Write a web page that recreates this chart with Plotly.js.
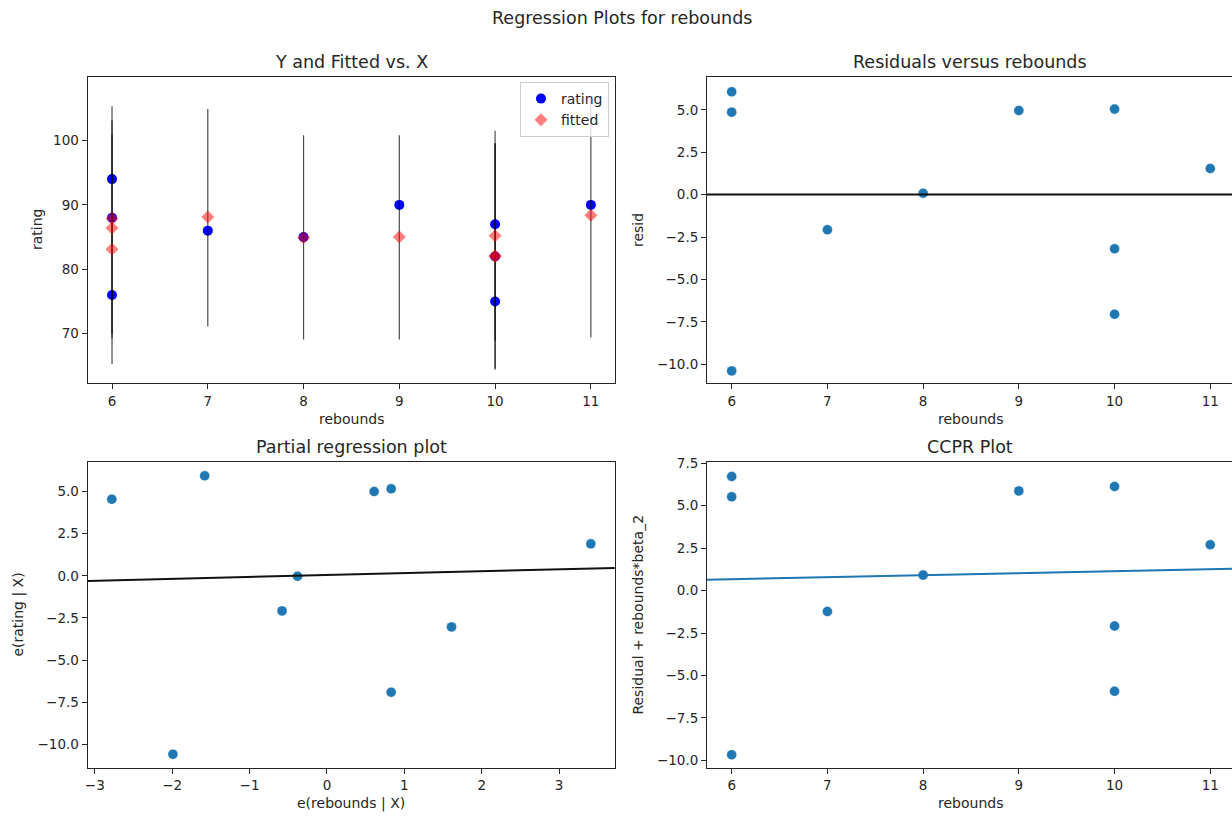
<!DOCTYPE html>
<html><head><meta charset="utf-8">
<script src="https://cdn.plot.ly/plotly-3.0.1.min.js"></script>
<style>html,body{margin:0;padding:0;background:#fff}</style>
</head><body><div id="chart" style="width:1232px;height:816px"></div>
<script>
// ---- data ----
const rebounds   = [6, 6, 6, 7, 8, 9, 10, 10, 10, 11];
const rating     = [94, 88, 76, 86, 85, 90, 87, 82, 75, 90];
const fitted     = [87.9, 83.1, 86.4, 88.1, 84.9, 85.0, 82.0, 85.2, 82.1, 88.4];
const predLower  = [70.0, 65.3, 69.3, 71.1, 69.1, 69.1, 64.4, 68.9, 64.6, 69.4];
const predUpper  = [105.3, 100.9, 103.1, 104.9, 100.8, 100.8, 99.6, 101.5, 99.5, 106.4];
const resid      = [6.06, 4.86, -10.39, -2.07, 0.08, 4.96, 5.04, -3.19, -7.05, 1.54];
const partX      = [-1.58, -2.78, -1.99, -0.58, -0.38, 0.61, 0.83, 1.61, 0.83, 3.41];
const partY      = [5.94, 4.55, -10.59, -2.08, -0.02, 5.01, 5.17, -3.03, -6.91, 1.90];
const ccpr       = [6.72, 5.52, -9.67, -1.23, 0.91, 5.87, 6.13, -2.09, -5.93, 2.70];
const partLineX  = [-3.09, 3.72];
const partLineY  = [-0.30, 0.47];
const ccprLineX  = [5.74, 11.23];
const ccprLineY  = [0.64, 1.28];
const reboundTicks = [6, 7, 8, 9, 10, 11];
const ratingTicks  = [70, 80, 90, 100];
const residTicks   = [-10, -7.5, -5, -2.5, 0, 2.5, 5];
const ccprTicks    = [-10, -7.5, -5, -2.5, 0, 2.5, 5, 7.5];
const partXTicks   = [-3, -2, -1, 0, 1, 2, 3];

// ---- layout helpers ----
const W = 1232, H = 816;
const FONT = 'DejaVu Sans';
const TXT = '#262626';
const dx = (a, b) => [a / W, b / W];
const dy = (top, bottom) => [1 - bottom / H, 1 - top / H];
const axBase = {
  showline: true, linecolor: TXT, linewidth: 1,
  ticks: 'outside', ticklen: 5, tickwidth: 1, tickcolor: TXT,
  showgrid: false, zeroline: false, fixedrange: true,
  tickfont: {family: FONT, size: 13.5, color: TXT}
};
function ann(text, x, y, size, angle) {
  return {text: text, xref: 'paper', yref: 'paper', x: x / W, y: 1 - y / H,
    xanchor: 'center', yanchor: 'middle', showarrow: false, textangle: angle || 0,
    font: {family: FONT, size: size, color: TXT}};
}

const traces = [];
traces.push({x: rebounds, y: rating, mode: 'markers', name: 'rating',
  marker: {color: '#0000ff', size: 10}, xaxis: 'x', yaxis: 'y'});
for (let i = 0; i < rebounds.length; i++) {
  traces.push({x: [rebounds[i], rebounds[i]], y: [predLower[i], predUpper[i]],
    mode: 'lines', line: {color: 'rgba(0,0,0,0.7)', width: 1.2},
    showlegend: false, hoverinfo: 'skip', xaxis: 'x', yaxis: 'y'});
}
traces.push({x: rebounds, y: fitted, mode: 'markers', name: 'fitted',
  marker: {color: '#ff0000', opacity: 0.5, symbol: 'diamond', size: 10}, xaxis: 'x', yaxis: 'y'});

const dot = {color: '#1f77b4', size: 10, line: {color: 'rgba(255,255,255,0.6)', width: 0.6}};
traces.push({x: rebounds, y: resid, mode: 'markers', marker: dot, showlegend: false, xaxis: 'x2', yaxis: 'y2'});
traces.push({x: partX, y: partY, mode: 'markers', marker: dot, showlegend: false, xaxis: 'x3', yaxis: 'y3'});
traces.push({x: partLineX, y: partLineY, mode: 'lines', line: {color: '#111111', width: 2}, showlegend: false, xaxis: 'x3', yaxis: 'y3'});
traces.push({x: rebounds, y: ccpr, mode: 'markers', marker: dot, showlegend: false, xaxis: 'x4', yaxis: 'y4'});
traces.push({x: ccprLineX, y: ccprLineY, mode: 'lines', line: {color: '#1f77b4', width: 2}, showlegend: false, xaxis: 'x4', yaxis: 'y4'});

const layout = {
  width: W, height: H, margin: {l: 0, r: 0, t: 0, b: 0},
  paper_bgcolor: '#ffffff', plot_bgcolor: '#ffffff',
  font: {family: FONT, color: TXT},
  showlegend: true,
  legend: {x: 609 / W, xanchor: 'right', y: 1 - 82 / H, yanchor: 'top',
    bgcolor: 'rgba(255,255,255,0.8)', bordercolor: '#cccccc', borderwidth: 1,
    font: {family: FONT, size: 14, color: TXT}, tracegroupgap: 0},
  xaxis:  Object.assign({}, axBase, {domain: dx(87.6, 614.8), range: [5.745, 11.25], tickvals: reboundTicks, anchor: 'y', mirror: true}),
  yaxis:  Object.assign({}, axBase, {domain: dy(76.7, 383.3), range: [62.3, 109.9], tickvals: ratingTicks, anchor: 'x', mirror: true}),
  xaxis2: Object.assign({}, axBase, {domain: dx(707, 1232), range: [5.742, 11.227], tickvals: reboundTicks, anchor: 'y2', mirror: true}),
  yaxis2: Object.assign({}, axBase, {domain: dy(76.7, 383.3), range: [-11.12, 6.95], tickvals: residTicks, tickformat: '.1f', anchor: 'x2'}),
  xaxis3: Object.assign({}, axBase, {domain: dx(87.6, 614.8), range: [-3.093, 3.72], tickvals: partXTicks, anchor: 'y3', mirror: true}),
  yaxis3: Object.assign({}, axBase, {domain: dy(461.5, 767.7), range: [-11.39, 6.79], tickvals: residTicks, tickformat: '.1f', anchor: 'x3', mirror: true}),
  xaxis4: Object.assign({}, axBase, {domain: dx(707, 1232), range: [5.742, 11.227], tickvals: reboundTicks, anchor: 'y4', mirror: true}),
  yaxis4: Object.assign({}, axBase, {domain: dy(461.5, 767.7), range: [-10.43, 7.6], tickvals: ccprTicks, tickformat: '.1f', anchor: 'x4'}),
  shapes: [{type: 'line', xref: 'x2 domain', x0: 0, x1: 1, yref: 'y2', y0: 0, y1: 0,
    line: {color: '#111111', width: 2}}],
  annotations: [
    ann('Regression Plots for rebounds', 622, 18, 17.5),
    ann('Y and Fitted vs. X', 351.2, 62, 17.5),
    ann('Residuals versus rebounds', 970.5, 62, 17.5),
    ann('Partial regression plot', 351.2, 447, 17.5),
    ann('CCPR Plot', 970.5, 447, 17.5),
    ann('rebounds', 351.2, 419, 14),
    ann('rebounds', 970.5, 419, 14),
    ann('e(rebounds | X)', 351.2, 803, 14),
    ann('rebounds', 970.5, 803, 14),
    ann('rating', 37, 230, 14, -90),
    ann('resid', 638, 230, 14, -90),
    ann('e(rating | X)', 19, 614.6, 14, -90),
    ann('Residual + rebounds*beta_2', 638, 614.6, 14, -90)
  ]
};
Plotly.newPlot('chart', traces, layout, {displayModeBar: false, staticPlot: true});
</script></body></html>
